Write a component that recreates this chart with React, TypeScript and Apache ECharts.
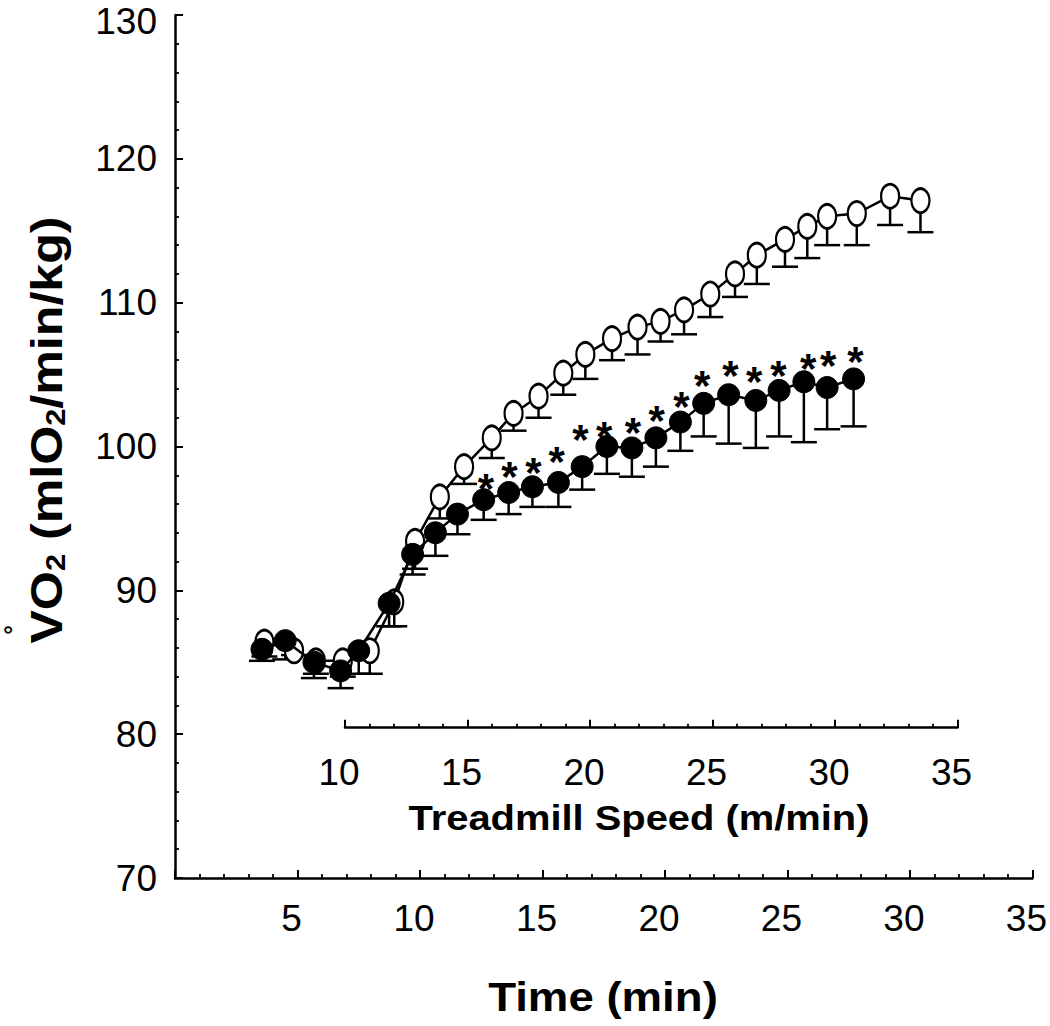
import React, { useEffect, useRef } from "react";
import * as echarts from "echarts";

// Control group (open circles): time (min), mean VO2, lower end of error bar
const openTime = [3.65, 4.86, 5.75, 6.85, 7.95, 8.95, 9.8, 10.81, 11.8, 12.93, 13.82, 14.84, 15.85, 16.75, 17.84, 18.88, 19.82, 20.78, 21.85, 22.86, 23.75, 24.9, 25.81, 26.62, 27.83, 29.19, 30.43];
const openMean = [86.4, 85.8, 85.1, 85.1, 85.8, 89.2, 93.4, 96.5, 98.6, 100.6, 102.3, 103.5, 105.1, 106.4, 107.5, 108.3, 108.7, 109.5, 110.6, 112.0, 113.3, 114.4, 115.3, 116.0, 116.2, 117.4, 117.1];
const openLower = [85.4, 85.5, 84.2, 84.0, 84.2, 87.5, 91.5, 95.0, 97.4, 99.2, 101.1, 102.0, 103.6, 104.7, 106.0, 106.4, 107.3, 107.8, 109.0, 110.4, 111.3, 112.5, 113.1, 114.0, 114.0, 115.4, 114.9];

// Treated group (filled circles)
const filledTime = [3.55, 4.5, 5.67, 6.76, 7.5, 8.74, 9.7, 10.63, 11.53, 12.6, 13.62, 14.59, 15.65, 16.62, 17.63, 18.65, 19.63, 20.63, 21.58, 22.6, 23.71, 24.66, 25.67, 26.62, 27.7];
const filledMean = [85.9, 86.5, 85.0, 84.4, 85.8, 89.1, 92.5, 94.0, 95.3, 96.3, 96.8, 97.2, 97.5, 98.6, 100.0, 99.9, 100.6, 101.7, 103.0, 103.6, 103.2, 103.9, 104.5, 104.1, 104.7];
const filledLower = [85.1, 85.2, 83.9, 83.2, 84.2, 87.5, 91.1, 92.4, 93.9, 94.9, 95.3, 95.8, 95.8, 97.0, 98.1, 97.9, 98.6, 99.7, 100.7, 100.2, 99.9, 100.7, 100.3, 101.2, 101.4];

// Significance markers (*)
const sigTime = [12.69, 13.65, 14.63, 15.58, 16.55, 17.52, 18.69, 19.66, 20.67, 21.52, 22.67, 23.64, 24.63, 25.85, 26.66, 27.77];
const sigValue = [97.77, 98.58, 98.86, 99.62, 101.18, 101.36, 101.64, 102.52, 103.45, 104.96, 105.65, 105.19, 105.65, 106.12, 106.35, 106.58];

// Axis ranges
const timeRange = [0, 35];
const vo2Range = [70, 130];
const speedRange = [10, 35];

const FONT = "'Liberation Sans', Arial, Helvetica, sans-serif";

const errorBarSeries = (time: number[], mean: number[], lower: number[], z: number) => ({
  type: "custom",
  xAxisIndex: 0,
  yAxisIndex: 0,
  z,
  silent: true,
  data: time.map((t, i) => [t, mean[i], lower[i]]),
  renderItem: (params: any, api: any) => {
    const p = api.coord([api.value(0), api.value(1)]);
    const q = api.coord([api.value(0), api.value(2)]);
    const hw = 13;
    return {
      type: "group",
      children: [
        { type: "line", shape: { x1: p[0], y1: p[1], x2: q[0], y2: q[1] }, style: { stroke: "#000", lineWidth: 2.5 } },
        { type: "line", shape: { x1: q[0] - hw, y1: q[1], x2: q[0] + hw, y2: q[1] }, style: { stroke: "#000", lineWidth: 2.5 } },
      ],
    };
  },
});

const axisCommon = {
  axisLine: { show: true, lineStyle: { color: "#000", width: 2.5 } },
  axisTick: { show: true, inside: true, length: 8, lineStyle: { color: "#000", width: 2 } },
  minorTick: { show: true, splitNumber: 5, length: 4, lineStyle: { color: "#000", width: 1.8 } },
  splitLine: { show: false },
  minorSplitLine: { show: false },
};

export default function App() {
  const ref = useRef<HTMLDivElement>(null);
  useEffect(() => {
    if (!ref.current) return;
    const chart = echarts.init(ref.current, undefined, { renderer: "svg" });
    chart.setOption({
      animation: false,
      backgroundColor: "#fff",
      grid: [
        { left: 175, top: 15, width: 863, height: 863 },
        { left: 345, top: 690, width: 612.5, height: 37.7 },
      ],
      xAxis: [
        {
          type: "value",
          gridIndex: 0,
          min: timeRange[0],
          max: timeRange[1],
          interval: 5,
          ...axisCommon,
          axisLabel: {
            fontSize: 37,
            color: "#000",
            fontFamily: FONT,
            margin: 22,
            padding: [0, 12, 0, 0],
            formatter: (v: number) => (v === 0 ? "" : String(v)),
          },
        },
        {
          type: "value",
          gridIndex: 1,
          min: speedRange[0],
          max: speedRange[1],
          interval: 5,
          ...axisCommon,
          axisLabel: {
            fontSize: 37,
            color: "#000",
            fontFamily: FONT,
            margin: 26,
            padding: [0, 12, 0, 0],
          },
        },
      ],
      yAxis: [
        {
          type: "value",
          gridIndex: 0,
          min: vo2Range[0],
          max: vo2Range[1],
          interval: 10,
          ...axisCommon,
          axisLabel: {
            fontSize: 37,
            color: "#000",
            fontFamily: FONT,
            margin: 18,
            formatter: (v: number) => (v === vo2Range[1] ? "{t|" + v + "}" : String(v)),
            rich: {
              t: { fontSize: 37, color: "#000", fontFamily: FONT, padding: [13, 0, 0, 0] },
            },
          },
        },
        { type: "value", gridIndex: 1, show: false, min: 0, max: 1 },
      ],
      graphic: [
        {
          type: "text",
          x: 47,
          y: 430,
          rotation: Math.PI / 2,
          scaleX: 1.14,
          style: {
            text: "VO{sub|2} (mlO{sub|2}/min/kg)",
            fontSize: 44,
            fontWeight: "bold",
            fontFamily: FONT,
            fill: "#000",
            align: "center",
            verticalAlign: "middle",
            rich: {
              sub: {
                fontSize: 27,
                fontWeight: "bold",
                fontFamily: FONT,
                fill: "#000",
                verticalAlign: "bottom",
              },
            },
          },
        },
        {
          type: "text",
          x: 12.5,
          y: 630,
          rotation: Math.PI / 2,
          style: {
            text: "°",
            fontSize: 24,
            fontWeight: "bold",
            fontFamily: FONT,
            fill: "#000",
            align: "center",
            verticalAlign: "middle",
          },
        },
        {
          type: "text",
          x: 639,
          y: 817.5,
          scaleX: 1.14,
          style: {
            text: "Treadmill Speed (m/min)",
            fontSize: 35,
            fontWeight: "bold",
            fontFamily: FONT,
            fill: "#000",
            align: "center",
            verticalAlign: "middle",
          },
        },
        {
          type: "text",
          x: 603,
          y: 997.5,
          scaleX: 1.14,
          style: {
            text: "Time (min)",
            fontSize: 40,
            fontWeight: "bold",
            fontFamily: FONT,
            fill: "#000",
            align: "center",
            verticalAlign: "middle",
          },
        },
      ],
      series: [
        errorBarSeries(openTime, openMean, openLower, 1),
        errorBarSeries(filledTime, filledMean, filledLower, 1),
        {
          type: "line",
          name: "Control",
          xAxisIndex: 0,
          yAxisIndex: 0,
          z: 3,
          data: openTime.map((t, i) => [t, openMean[i]]),
          symbol: "circle",
          symbolSize: [18, 24],
          lineStyle: { color: "#000", width: 2.5 },
          itemStyle: { color: "#fff", borderColor: "#000", borderWidth: 2.5 },
        },
        {
          type: "line",
          name: "Treated",
          xAxisIndex: 0,
          yAxisIndex: 0,
          z: 4,
          data: filledTime.map((t, i) => [t, filledMean[i]]),
          symbol: "circle",
          symbolSize: [22, 22],
          lineStyle: { color: "#000", width: 2.5 },
          itemStyle: { color: "#000", borderColor: "#000", borderWidth: 1 },
        },
        {
          type: "scatter",
          name: "Significance",
          xAxisIndex: 0,
          yAxisIndex: 0,
          z: 5,
          symbolSize: 0,
          itemStyle: { color: "#000", opacity: 0 },
          data: sigTime.map((t, i) => [t, sigValue[i]]),
          label: {
            show: true,
            position: "inside",
            formatter: "*",
            fontSize: 42,
            fontWeight: "bold",
            fontFamily: FONT,
            color: "#000",
            opacity: 1,
            textBorderWidth: 0,
            offset: [0, 10],
          },
        },
      ],
    });
    return () => chart.dispose();
  }, []);
  return <div ref={ref} style={{ position: "fixed", left: 0, top: 0, width: 1050, height: 1026 }} />;
}
